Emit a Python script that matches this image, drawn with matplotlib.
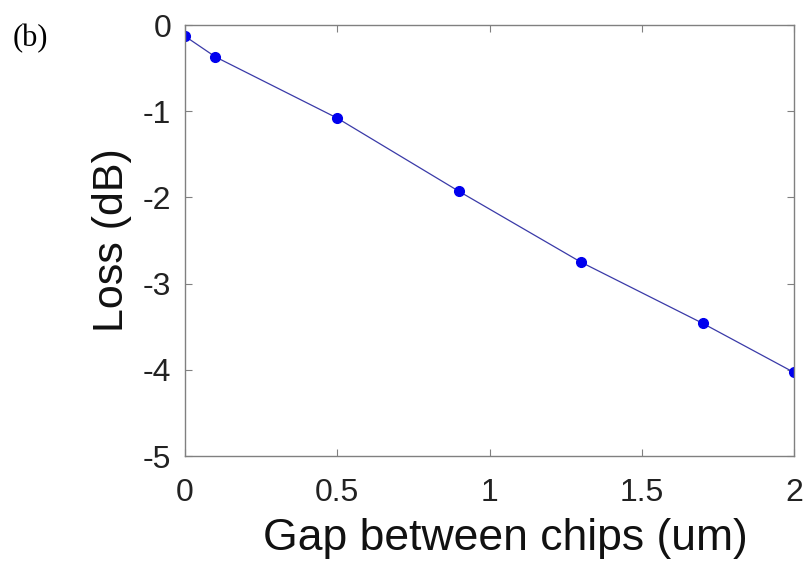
import matplotlib
matplotlib.use("Agg")
import matplotlib.pyplot as plt

gap = [0, 0.1, 0.5, 0.9, 1.3, 1.7, 2.0]
loss = [-0.13, -0.37, -1.08, -1.93, -2.75, -3.46, -4.03]
xticks = [0, 0.5, 1, 1.5, 2]
xticklabels = ["0", "0.5", "1", "1.5", "2"]
yticks = [0, -1, -2, -3, -4, -5]
yticklabels = ["0", "-1", "-2", "-3", "-4", "-5"]

plt.rcParams['font.family'] = ['Liberation Sans', 'DejaVu Sans']

fig = plt.figure(figsize=(8.09, 5.61), dpi=100)
ax = fig.add_axes([0.2287, 0.187, 0.7528, 0.7684])
ax.plot(gap, loss, color='#3a3aa8', linewidth=0.9, marker='o', markersize=7,
        markerfacecolor='#0000ee', markeredgecolor='#0000ee')
ax.set_xlim(0, 2)
ax.set_ylim(-5, 0)
ax.set_xticks(xticks)
ax.set_xticklabels(xticklabels)
ax.set_yticks(yticks)
ax.set_yticklabels(yticklabels)
for s in ax.spines.values():
    s.set_color('#808080')
    s.set_linewidth(1.0)
ax.tick_params(direction='in', length=5, color='#808080', labelsize=23,
               labelcolor='#222222', top=True, right=True)
ax.tick_params(axis='x', pad=16)
ax.tick_params(axis='y', pad=10)
ax.set_xlabel("Gap between chips (um)", fontsize=32, color='#111111')
ax.xaxis.set_label_coords(0.526, -0.144)
ax.set_ylabel("Loss (dB)", fontsize=31, color='#111111', labelpad=8)
fig.text(0.015, 0.958, "(b)", fontsize=22, family=['Liberation Serif'],
         color='black', va='top')
fig.savefig("out.png", dpi=100)
